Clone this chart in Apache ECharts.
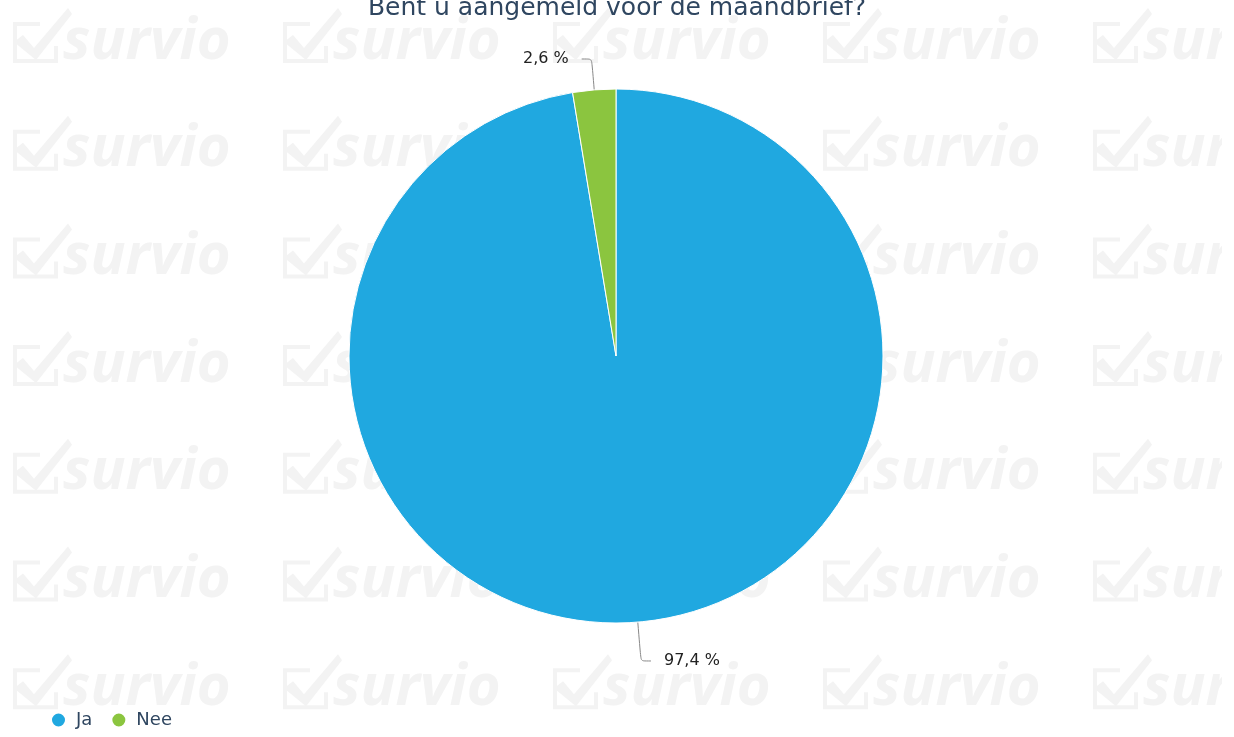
<!DOCTYPE html>
<html>
<head>
<meta charset="utf-8">
<script src="https://cdn.jsdelivr.net/npm/echarts@6/dist/echarts.min.js"></script>
<style>html,body{margin:0;padding:0;background:#fff}#c{width:1234px;height:737px}</style>
</head>
<body>
<div id="c"></div>
<script>
const titleText = 'Bent u aangemeld voor de maandbrief?';
const categories = ['Ja', 'Nee'];
const values = [97.4, 2.6];
const colors = ['#20a8e0', '#8bc53f'];

const chart = echarts.init(document.getElementById('c'));

// watermark grid (decoration)
const wm = [];
const wmColor = '#f3f3f3';
for (let r = 0; r < 7; r++) {
  for (let c = 0; c < 5; c++) {
    const ox = 12 + c * 270, oy = r * 107.7;
    wm.push({
      type: 'polyline', x: ox, y: oy, z: 0,
      shape: { points: [[28, 24], [3, 24], [3, 61], [44, 61], [44, 46]] },
      style: { stroke: wmColor, lineWidth: 4, fill: null }
    });
    wm.push({
      type: 'polygon', x: ox, y: oy, z: 0,
      shape: { points: [[2, 42], [11, 35], [22, 48], [56, 8], [60, 14], [24, 60]] },
      style: { fill: wmColor }
    });
    wm.push({
      type: 'text', x: ox + 51, y: oy + 71, z: 0,
      style: { text: 'survio', fill: wmColor, font: 'italic bold 58px "Open Sans"', verticalAlign: 'bottom' }
    });
  }
}
wm.push({ type: 'rect', shape: { x: 1222, y: 0, width: 20, height: 737 }, style: { fill: '#fff' }, z: 1 });

const labelLens = [39, 31];

chart.setOption({
  animation: false,
  backgroundColor: '#fff',
  color: colors,
  graphic: { elements: wm },
  title: {
    text: titleText,
    left: 'center',
    top: -9,
    textStyle: { fontFamily: 'DejaVu Sans', fontSize: 25, fontWeight: 'normal', color: '#2f4660' }
  },
  legend: {
    left: 45,
    top: 706,
    icon: 'circle',
    itemWidth: 15,
    itemHeight: 15,
    itemGap: 18,
    textStyle: { fontFamily: 'DejaVu Sans', fontSize: 18, color: '#2f4660', padding: [0, 0, 0, 5] },
    data: categories
  },
  series: [{
    type: 'pie',
    center: [616, 356],
    radius: ['0%', 267],
    startAngle: 90,
    clockwise: true,
    itemStyle: { borderColor: '#fff', borderWidth: 1 },
    label: {
      show: true,
      position: 'outside',
      fontFamily: 'DejaVu Sans',
      fontSize: 16,
      color: '#222',
      distanceToLabelLine: 13,
      formatter: p => String(p.value).replace('.', ',') + ' %'
    },
    labelLine: {
      show: true, length: 33, length2: 10, smooth: 0.2,
      lineStyle: { color: '#888', width: 1 }
    },
    emphasis: { disabled: true },
    data: categories.map((n, i) => ({ name: n, value: values[i], labelLine: { length: labelLens[i] } }))
  }]
});
</script>
</body>
</html>
